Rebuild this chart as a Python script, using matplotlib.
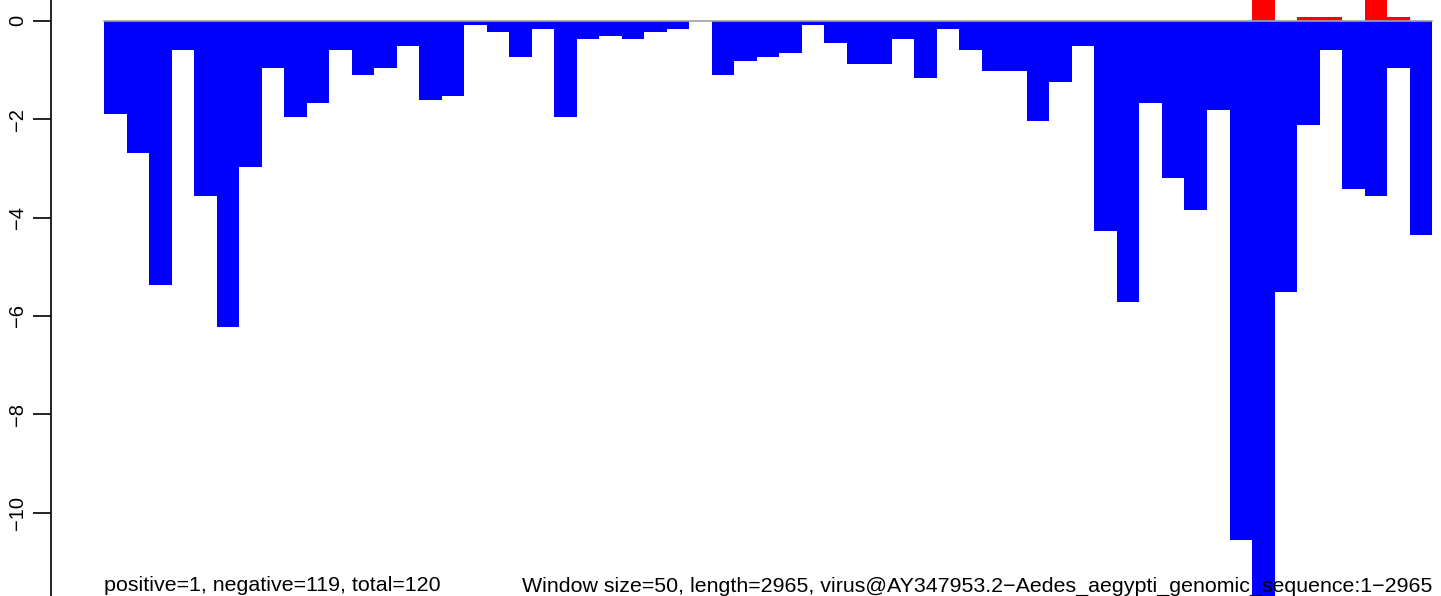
import numpy as np
import matplotlib
matplotlib.use('Agg')
import matplotlib.pyplot as plt

plt.rcParams['font.family'] = ['Liberation Sans', 'DejaVu Sans']

# window scores, one bar per window (50 nt)
neg_values = [-1.90, -2.69, -5.37, -0.60, -3.56, -6.22, -2.97, -0.96, -1.96, -1.67,
              -0.60, -1.10, -0.96, -0.51, -1.61, -1.53, -0.09, -0.23, -0.74, -0.17,
              -1.96, -0.37, -0.31, -0.37, -0.23, -0.17, 0.00, -1.10, -0.82, -0.74,
              -0.66, -0.09, -0.45, -0.88, -0.88, -0.37, -1.16, -0.17, -0.60, -1.02,
              -1.02, -2.04, -1.25, -0.51, -4.27, -5.72, -1.67, -3.20, -3.85, -1.82,
              -10.55, -12.00, -5.52, -2.12, -0.60, -3.42, -3.56, -0.96, -4.36]
pos_values = [0.0] * 51 + [0.60, 0.0, 0.08, 0.08, 0.0, 0.60, 0.08, 0.0]
y_ticks = [0, -2, -4, -6, -8, -10]
note_left = "positive=1, negative=119, total=120"
note_right = "Window size=50, length=2965, virus@AY347953.2-Aedes_aegypti_genomic_sequence:1-2965"

n = len(neg_values)
x = np.arange(n)

fig = plt.figure(figsize=(14.41, 5.96), dpi=100)
ax = fig.add_axes([50.7 / 1441, 0, 1 - 50.7 / 1441, 1])

ax.bar(x, neg_values, width=1, align='edge', color='blue', linewidth=0, zorder=2)
ax.bar(x, pos_values, width=1, align='edge', color='red', linewidth=0, zorder=2)
ax.plot([0, n], [0, 0], color='#a0a0a0', lw=1.2, zorder=3)

# notes along the bottom edge
ax.text(0, -11.60, note_left, fontsize=15.4, ha='left', va='baseline', zorder=4)
ax.text(n, -11.60, note_right.replace('-', '\u2212'), fontsize=15.4, ha='right', va='baseline', zorder=4)

ax.set_xlim((50.7 - 104) / 22.51, (1441 - 104) / 22.51)
ax.set_ylim(-(596 - 20.7) / 49.2, 20.7 / 49.2)

for s in ['top', 'right', 'bottom']:
    ax.spines[s].set_visible(False)
ax.spines['left'].set_linewidth(1.2)
ax.set_xticks([])
ax.set_yticks(y_ticks)
ax.set_yticklabels([str(t).replace('-', '\u2212') for t in y_ticks], rotation=90, va='center', fontsize=14.5)
ax.tick_params(axis='y', length=13, width=1.2, pad=4)
# the -12 label is cut by the bottom edge
ax.text(-2.37 - 1.68, -12, '\u221212', rotation=90, va='center', ha='center', fontsize=14.5, clip_on=False)

fig.savefig('out.png', dpi=100)
